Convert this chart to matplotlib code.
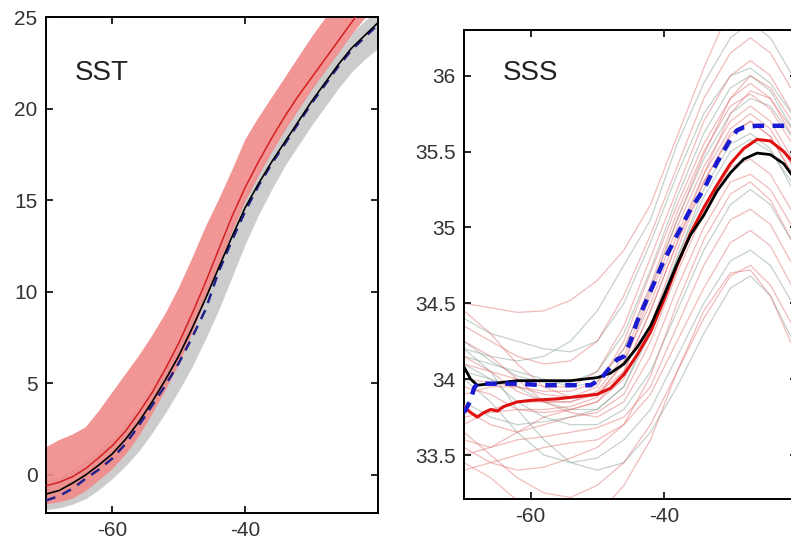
import numpy as np
import matplotlib
matplotlib.use("Agg")
import matplotlib.pyplot as plt

plt.rcParams["font.family"] = ["Liberation Sans", "DejaVu Sans"]
plt.rcParams["axes.unicode_minus"] = False

# ── SST panel ────────────────────────────────────────────────────────────────
sst_lat = [-70, -68, -66, -64, -62, -60, -58, -56, -54, -52, -50, -48, -46,
           -44, -42, -40, -38, -36, -34, -32, -30, -28, -26, -24, -22, -20]
sst_red = [-0.6, -0.4, -0.1, 0.35, 0.95, 1.6, 2.4, 3.4, 4.5, 5.8, 7.2, 8.8, 10.5,
           12.3, 14.1, 15.7, 17.1, 18.4, 19.6, 20.7, 21.7, 22.7, 23.7, 24.7, 25.7, 26.6]
sst_red_lo = [-1.6, -1.5, -1.3, -0.9, -0.3, 0.3, 1.1, 2.1, 3.3, 4.6, 6.0, 7.7, 9.5,
              11.4, 13.2, 14.9, 16.3, 17.6, 18.8, 19.9, 21.0, 22.0, 23.0, 24.0, 24.9, 25.6]
sst_red_hi = [1.5, 1.9, 2.2, 2.6, 3.5, 4.5, 5.5, 6.5, 7.6, 8.8, 10.2, 11.8, 13.5,
              15.0, 16.6, 18.3, 19.5, 20.6, 21.7, 22.8, 23.9, 24.9, 25.8, 26.7, 27.5, 28.2]
sst_black = [-1.05, -0.85, -0.45, 0.0, 0.55, 1.15, 1.95, 2.9, 4.0, 5.2, 6.5, 8.0, 9.6,
             11.3, 13.0, 14.6, 15.9, 17.1, 18.2, 19.3, 20.4, 21.4, 22.4, 23.3, 24.0, 24.7]
sst_gray_lo = [-1.9, -1.8, -1.6, -1.3, -0.8, -0.2, 0.5, 1.3, 2.3, 3.4, 4.6, 5.9, 7.4,
               9.0, 10.8, 12.6, 14.2, 15.6, 16.9, 18.0, 19.1, 20.1, 21.1, 22.0, 22.7, 23.3]
sst_gray_hi = [-0.3, -0.1, 0.3, 0.8, 1.4, 2.0, 2.8, 3.7, 4.8, 6.0, 7.3, 8.8, 10.4,
               12.1, 13.8, 15.4, 16.7, 17.9, 19.0, 20.1, 21.2, 22.2, 23.2, 24.1, 24.8, 25.4]
sst_blue = [-1.4, -1.15, -0.75, -0.2, 0.3, 0.9, 1.7, 2.7, 3.8, 4.9, 6.1, 7.5, 9.0,
            11.1, 12.8, 14.4, 15.8, 17.0, 18.1, 19.2, 20.3, 21.3, 22.3, 23.2, 23.9, 24.6]

# ── SSS panel ────────────────────────────────────────────────────────────────
sss_black_lat = [-70, -69, -68, -66, -62, -58, -54, -50, -48, -46, -44, -42, -40,
                 -38, -36, -34, -32, -30, -28, -26, -24, -22, -20]
sss_black = [34.08, 34.00, 33.96, 33.97, 33.99, 33.99, 33.99, 34.01, 34.04, 34.10,
             34.21, 34.35, 34.55, 34.76, 34.95, 35.08, 35.24, 35.36, 35.45, 35.49,
             35.48, 35.42, 35.30]

sss_red_lat = [-70, -69, -68, -67, -66, -65, -64, -62, -60, -56, -52, -50, -48, -46,
               -44, -42, -40, -38, -36, -34, -32, -30, -28, -26, -24, -22, -20]
sss_red = [33.82, 33.78, 33.75, 33.78, 33.80, 33.79, 33.82, 33.85, 33.86, 33.87,
           33.89, 33.90, 33.94, 34.03, 34.16, 34.31, 34.52, 34.75, 34.96, 35.13,
           35.28, 35.42, 35.52, 35.58, 35.57, 35.50, 35.40]

sss_blue_lat = [-70, -69.5, -69, -68.5, -68, -66, -62, -58, -54, -51, -49.5, -48,
                -47, -46, -45, -44, -42, -40, -38, -36, -34, -32, -30, -29, -28,
                -26, -24, -22, -20]
sss_blue = [33.78, 33.82, 33.86, 33.94, 33.97, 33.97, 33.97, 33.96, 33.96, 33.96,
            34.00, 34.08, 34.13, 34.15, 34.25, 34.38, 34.58, 34.78, 34.95, 35.12,
            35.25, 35.43, 35.58, 35.64, 35.66, 35.67, 35.67, 35.67, 35.67]

# ensemble members (thin lines)
sss_thin_lat = [-70, -66, -62, -58, -54, -50, -46, -42, -38, -34, -30, -27, -24, -20]
sss_thin_red = [
    [34.50, 34.47, 34.44, 34.45, 34.52, 34.65, 34.85, 35.15, 35.60, 36.05, 36.45, 36.60, 36.55, 36.30],
    [34.35, 34.25, 34.15, 34.10, 34.12, 34.25, 34.55, 34.95, 35.40, 35.85, 36.15, 36.25, 36.15, 35.85],
    [34.10, 34.05, 34.00, 33.95, 33.95, 34.05, 34.35, 34.80, 35.25, 35.70, 36.00, 36.10, 36.00, 35.70],
    [33.90, 33.95, 33.95, 33.90, 33.88, 33.95, 34.25, 34.70, 35.15, 35.55, 35.85, 35.95, 35.85, 35.55],
    [33.70, 33.80, 33.85, 33.85, 33.85, 33.90, 34.10, 34.55, 35.00, 35.40, 35.70, 35.80, 35.70, 35.40],
    [33.60, 33.55, 33.65, 33.75, 33.80, 33.85, 34.05, 34.45, 34.90, 35.30, 35.60, 35.70, 35.60, 35.30],
    [33.80, 33.70, 33.65, 33.70, 33.75, 33.78, 33.90, 34.25, 34.70, 35.10, 35.40, 35.45, 35.35, 35.05],
    [34.25, 34.15, 34.00, 33.85, 33.78, 33.75, 33.85, 34.15, 34.60, 35.00, 35.30, 35.35, 35.25, 34.95],
    [33.50, 33.55, 33.60, 33.62, 33.65, 33.68, 33.75, 33.95, 34.35, 34.75, 35.05, 35.12, 35.02, 34.70],
    [33.40, 33.45, 33.50, 33.55, 33.58, 33.60, 33.70, 33.90, 34.25, 34.60, 34.90, 34.98, 34.88, 34.55],
    [33.65, 33.50, 33.35, 33.25, 33.22, 33.30, 33.45, 33.70, 34.05, 34.40, 34.68, 34.75, 34.62, 34.30],
    [33.45, 33.35, 33.20, 33.10, 33.05, 33.10, 33.30, 33.60, 34.05, 34.45, 34.70, 34.72, 34.55, 34.15],
    [34.45, 34.30, 34.10, 33.95, 33.88, 33.90, 34.05, 34.45, 34.90, 35.35, 35.75, 35.90, 35.85, 35.60],
    [33.95, 33.90, 33.80, 33.78, 33.80, 33.85, 34.00, 34.35, 34.85, 35.30, 35.62, 35.70, 35.60, 35.30],
    [34.00, 33.98, 33.95, 33.92, 33.92, 33.98, 34.20, 34.62, 35.10, 35.50, 35.80, 35.88, 35.78, 35.50],
    [33.75, 33.78, 33.80, 33.80, 33.82, 33.88, 34.12, 34.50, 34.95, 35.35, 35.65, 35.75, 35.65, 35.35],
    [34.15, 34.05, 33.92, 33.85, 33.85, 33.92, 34.15, 34.58, 35.05, 35.48, 35.85, 36.00, 35.92, 35.65],
    [33.55, 33.45, 33.40, 33.42, 33.48, 33.55, 33.70, 34.02, 34.50, 34.92, 35.22, 35.30, 35.18, 34.85],
]
sss_thin_gray = [
    [34.20, 34.15, 34.12, 34.15, 34.25, 34.45, 34.75, 35.05, 35.55, 35.95, 36.25, 36.35, 36.25, 35.95],
    [34.40, 34.30, 34.25, 34.20, 34.18, 34.25, 34.50, 34.90, 35.35, 35.75, 36.00, 36.05, 35.95, 35.70],
    [34.15, 34.10, 34.05, 34.00, 33.95, 33.98, 34.20, 34.60, 35.05, 35.45, 35.75, 35.85, 35.80, 35.55],
    [34.05, 34.00, 33.95, 33.85, 33.80, 33.80, 33.95, 34.35, 34.80, 35.20, 35.50, 35.58, 35.50, 35.25],
    [34.10, 34.00, 33.85, 33.75, 33.70, 33.70, 33.80, 34.05, 34.45, 34.85, 35.15, 35.25, 35.15, 34.85],
    [34.00, 33.85, 33.65, 33.50, 33.45, 33.48, 33.60, 33.80, 34.15, 34.50, 34.78, 34.85, 34.75, 34.45],
    [34.20, 34.05, 33.80, 33.60, 33.45, 33.40, 33.45, 33.65, 33.95, 34.30, 34.60, 34.68, 34.55, 34.20],
    [33.85, 33.75, 33.70, 33.72, 33.75, 33.80, 33.95, 34.30, 34.80, 35.25, 35.55, 35.62, 35.52, 35.20],
    [34.25, 34.12, 34.02, 33.98, 33.98, 34.05, 34.30, 34.72, 35.20, 35.62, 35.92, 36.00, 35.90, 35.60],
]

sst_yticks = [0, 5, 10, 15, 20, 25]
sss_yticks = [33.5, 34, 34.5, 35, 35.5, 36]
sss_yticklabels = ["33.5", "34", "34.5", "35", "35.5", "36"]
lat_ticks = [-60, -40]


def style_axes(ax):
    ax.tick_params(direction="in", top=True, right=True, length=5, width=1.2,
                   labelsize=15, labelcolor="#333333", pad=6)
    for s in ax.spines.values():
        s.set_linewidth(1.4)
    ax.set_xticks(lat_ticks)
    ax.set_xlim(-70, -20)


fig = plt.figure(figsize=(7.91, 5.42), dpi=100)

# left: SST
ax1 = fig.add_axes([0.058, 0.0535, 0.420, 0.915])
ax1.fill_between(sst_lat, sst_gray_lo, sst_gray_hi, color="#cccccc", lw=0, zorder=1)
ax1.fill_between(sst_lat, sst_red_lo, sst_red_hi, color="#f08a8a", alpha=0.9, lw=0, zorder=2)
ax1.plot(sst_lat, sst_blue, color="#22228a", lw=1.8, dashes=(4, 3), zorder=3)
ax1.plot(sst_lat, sst_black, color="black", lw=1.2, zorder=4)
ax1.plot(sst_lat, sst_red, color="#d42020", lw=1.1, zorder=5)
ax1.set_ylim(-2.08, 25)
ax1.set_yticks(sst_yticks)
style_axes(ax1)
ax1.text(0.087, 0.873, "SST", transform=ax1.transAxes, fontsize=20, color="#222222")

# right: SSS
ax2 = fig.add_axes([0.5866, 0.0793, 0.421, 0.865])
for vals in sss_thin_gray:
    ax2.plot(sss_thin_lat, vals, color="#7f9a8e", lw=0.9, alpha=0.45, zorder=1)
for vals in sss_thin_red:
    ax2.plot(sss_thin_lat, vals, color="#e06a6a", lw=0.9, alpha=0.45, zorder=1)
ax2.plot(sss_red_lat, sss_red, color="#e01010", lw=2.2, zorder=3)
ax2.plot(sss_black_lat, sss_black, color="black", lw=2.0, zorder=4)
ax2.plot(sss_blue_lat, sss_blue, color="#1a1ad0", lw=3.2, dashes=(2.6, 1.9), zorder=5)
ax2.set_ylim(33.21, 36.3)
ax2.set_yticks(sss_yticks)
ax2.set_yticklabels(sss_yticklabels)
style_axes(ax2)
ax2.text(0.117, 0.893, "SSS", transform=ax2.transAxes, fontsize=20, color="#222222")

fig.savefig("out.png", dpi=100)
